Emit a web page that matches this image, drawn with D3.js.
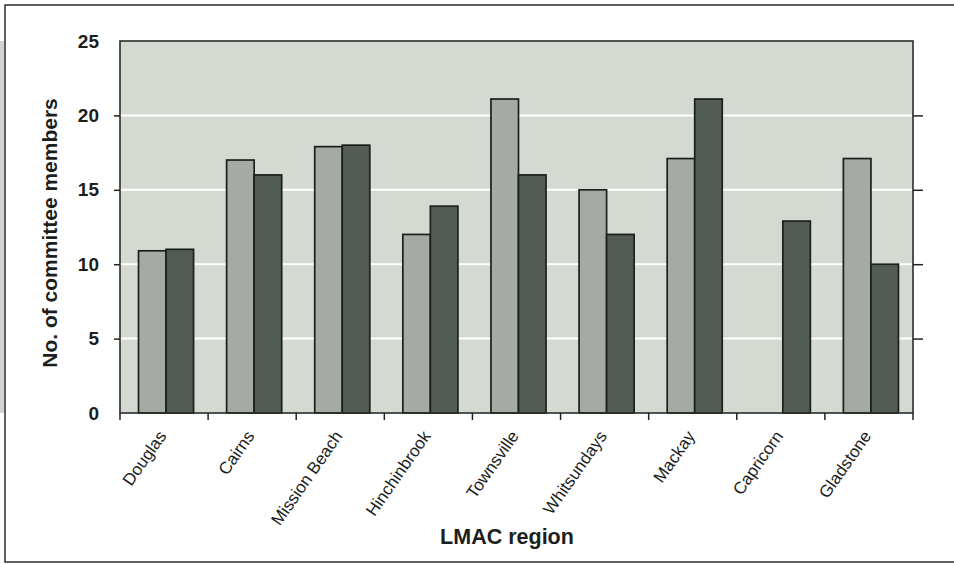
<!DOCTYPE html>
<html>
<head>
<meta charset="utf-8">
<script src="https://cdn.jsdelivr.net/npm/d3@7"></script>
<style>
  html, body { margin: 0; padding: 0; background: #ffffff; }
  svg { display: block; }
  text { font-family: Arial, "Liberation Sans", Helvetica, sans-serif; fill: #1c1e1c; }
</style>
</head>
<body>
<svg id="chart" width="954" height="564"></svg>
<script>
// Committee membership per LMAC region, two survey periods
const regions = ["Douglas", "Cairns", "Mission Beach", "Hinchinbrook", "Townsville",
                 "Whitsundays", "Mackay", "Capricorn", "Gladstone"];
const seriesNames = ["earlier", "later"];
const earlierMembers = [10.9, 17.0, 17.9, 12.0, 21.1, 15.0, 17.1, 0, 17.1];
const laterMembers   = [11.0, 16.0, 18.0, 13.9, 16.0, 12.0, 21.1, 12.9, 10.0];
const yTicks = [0, 5, 10, 15, 20, 25];
const gridTicks = [5, 10, 15, 20];

const seriesColors = { earlier: "#a5aba4", later: "#525c54" };

const svg = d3.select("#chart");
const plot = { left: 120, top: 41, right: 913, bottom: 413 };

// outer frame and the grey strip at the left edge
svg.append("rect").attr("x", 0).attr("y", 41).attr("width", 4).attr("height", 372)
  .attr("fill", "#d0d4d0");
svg.append("rect").attr("x", 5).attr("y", 5).attr("width", 960).attr("height", 557)
  .attr("fill", "none").attr("stroke", "#2a2c2a").attr("stroke-width", 1.5);

const x0 = d3.scaleBand().domain(regions).range([plot.left, plot.right]).padding(0);
const bw = x0.bandwidth();
const x1 = d3.scaleBand().domain(seriesNames).range([bw * 0.21, bw * 0.835]).padding(0);
const y = d3.scaleLinear().domain([0, 25]).range([plot.bottom, plot.top]);

// plot background
svg.append("rect")
  .attr("x", plot.left).attr("y", plot.top)
  .attr("width", plot.right - plot.left).attr("height", plot.bottom - plot.top)
  .attr("fill", "#d4d9d2");

// white gridlines
svg.append("g").selectAll("line").data(gridTicks).join("line")
  .attr("x1", plot.left).attr("x2", plot.right)
  .attr("y1", d => y(d)).attr("y2", d => y(d))
  .attr("stroke", "#ffffff").attr("stroke-width", 2);

// bars
const rows = regions.map((r, i) => ({ region: r, earlier: earlierMembers[i], later: laterMembers[i] }));
const groups = svg.append("g").selectAll("g").data(rows).join("g")
  .attr("transform", d => `translate(${x0(d.region)},0)`);
groups.selectAll("rect")
  .data(d => seriesNames.map(s => ({ key: s, value: d[s] })).filter(v => v.value > 0))
  .join("rect")
  .attr("x", d => x1(d.key))
  .attr("width", x1.bandwidth())
  .attr("y", d => y(d.value))
  .attr("height", d => y(0) - y(d.value))
  .attr("fill", d => seriesColors[d.key])
  .attr("stroke", "#1b201b").attr("stroke-width", 1.7);

// plot border
svg.append("rect")
  .attr("x", plot.left).attr("y", plot.top)
  .attr("width", plot.right - plot.left).attr("height", plot.bottom - plot.top)
  .attr("fill", "none").attr("stroke", "#2a2e2a").attr("stroke-width", 1.6);

// left y axis
const yAxis = svg.append("g").attr("transform", `translate(${plot.left},0)`)
  .call(d3.axisLeft(y).tickValues(yTicks).tickSize(6).tickPadding(15).tickFormat(d3.format("d")));
yAxis.select(".domain").remove();
yAxis.selectAll(".tick line").attr("stroke", "#222").attr("stroke-width", 1.5)
  .filter(d => d === 25 || d === 0).remove();
yAxis.selectAll(".tick text").style("font-size", "19px").style("font-weight", "bold")
  .attr("fill", "#1c1e1c");

// right y axis: ticks only
const yAxisR = svg.append("g").attr("transform", `translate(${plot.right},0)`)
  .call(d3.axisRight(y).tickValues(gridTicks).tickSize(10).tickFormat(""));
yAxisR.select(".domain").remove();
yAxisR.selectAll(".tick line").attr("stroke", "#222").attr("stroke-width", 1.5);

// x axis: ticks at category boundaries
const boundaries = regions.map(r => x0(r)).concat([plot.right]);
svg.append("g").selectAll("line").data(boundaries).join("line")
  .attr("x1", d => d).attr("x2", d => d)
  .attr("y1", plot.bottom).attr("y2", plot.bottom + 7)
  .attr("stroke", "#222").attr("stroke-width", 1.5);

svg.append("g").selectAll("text").data(regions).join("text")
  .attr("transform", d => `translate(${x0(d) + bw / 2 + 3},${plot.bottom + 23}) rotate(-55)`)
  .attr("text-anchor", "end")
  .style("font-size", "17px")
  .text(d => d);

// axis titles
svg.append("text")
  .attr("transform", `translate(57,233) rotate(-90)`)
  .attr("text-anchor", "middle")
  .style("font-size", "21px").style("font-weight", "bold")
  .text("No. of committee members");

svg.append("text")
  .attr("x", 507).attr("y", 544)
  .attr("text-anchor", "middle")
  .style("font-size", "21.5px").style("font-weight", "bold")
  .text("LMAC region");
</script>
</body>
</html>
